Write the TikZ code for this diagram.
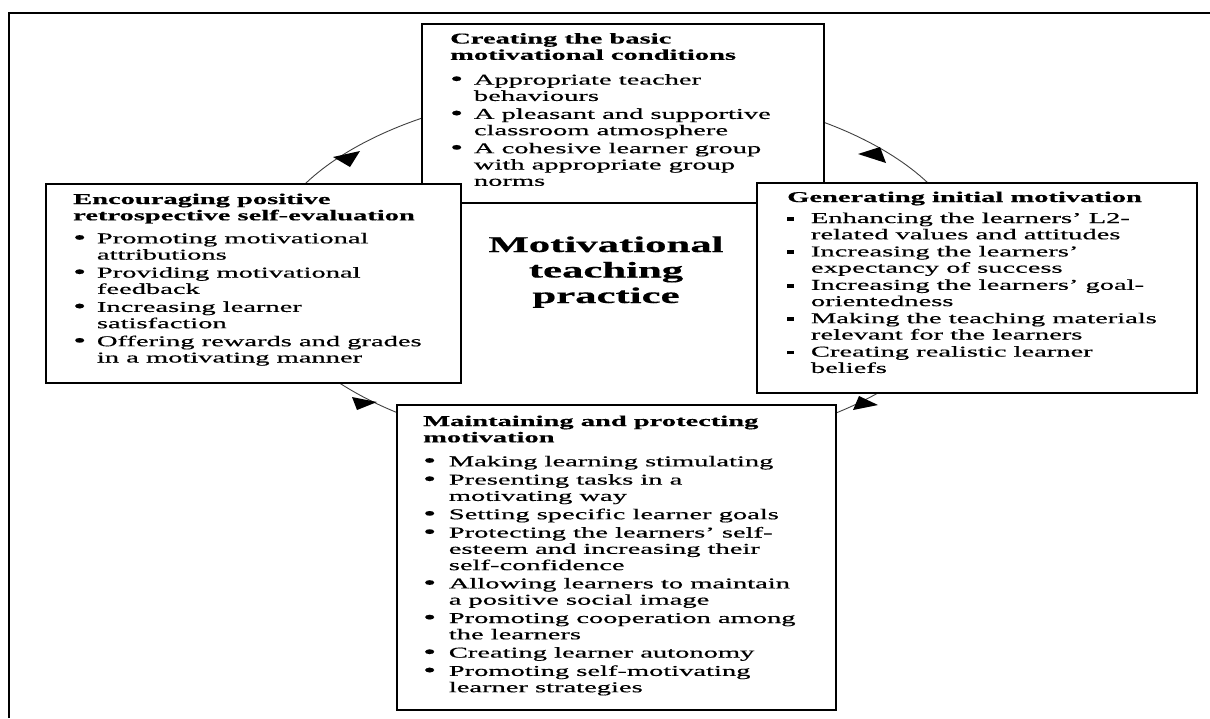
\documentclass[tikz,border=0pt]{standalone}
\usepackage{fontspec}
\setmainfont{Liberation Serif}[FakeBold=0.4]
\usepackage{graphicx}
\usetikzlibrary{backgrounds}
\newlength\bulw
\setlength\bulw{12.5pt}
\newcommand\bul{\makebox[\bulw][l]{\raisebox{-0.6pt}{\scalebox{1.3}{\textbullet}}}}
\newcommand\sqb{\makebox[\bulw][l]{\raisebox{2.3pt}{\rule{3.6pt}{3.8pt}}}}
\newcommand\ind{\hspace*{\bulw}}
\newcommand\stretchtab[2]{\scalebox{1.9}[1]{\begin{tabular}[t]{@{}#1@{}}#2\end{tabular}}}
\begin{document}
\begin{tikzpicture}[x=1pt,y=-1pt,
  boxstyle/.style={draw=black, fill=white, line width=1.5pt, anchor=north west, inner sep=0pt},
  txt/.style={anchor=base west, inner sep=0pt, font=\fontsize{15}{16.3}\selectfont},
  titletxt/.style={anchor=base, inner sep=0pt, font=\bfseries\fontsize{22.5}{25.5}\selectfont},
  framestyle/.style={line width=1.4pt, draw=black},
  arcstyle/.style={line width=0.9pt, draw=black!75},
  headfill/.style={fill=black}]
\useasboundingbox (0,0) rectangle (1210,718);
% outer frame
\coordinate (fbl) at (9,718);
\coordinate (ftl) at (9,13);
\coordinate (ftr) at (1210,13);
\draw[framestyle] (fbl) -- (ftl) -- (ftr);
% ellipse centre
\coordinate (c) at (617,270);
% boxes
\node[boxstyle, minimum width=402pt, minimum height=179pt] (topbox) at (421,23) {};
\node[boxstyle, minimum width=415pt, minimum height=199pt] (leftbox) at (45,183) {};
\node[boxstyle, minimum width=440pt, minimum height=210pt] (rightbox) at (756,182) {};
\node[boxstyle, minimum width=439pt, minimum height=305pt] (botbox) at (396,404) {};
% cycle arcs (behind boxes)
\begin{pgfonlayer}{background}
\draw[arcstyle] ([shift={(-90:354 and 182)}]c) arc[start angle=-90, end angle=-180, x radius=354, y radius=182];
\draw[arcstyle] ([shift={(0:354 and 182)}]c) arc[start angle=0, end angle=-90, x radius=354, y radius=182];
\draw[arcstyle] ([shift={(0:354 and 182)}]c) arc[start angle=0, end angle=90, x radius=354, y radius=182];
\draw[arcstyle] ([shift={(90:354 and 182)}]c) arc[start angle=90, end angle=180, x radius=354, y radius=182];
\end{pgfonlayer}
% arrowheads
\fill[headfill] (333,157) -- (360,151) -- (350,167) -- cycle;
\fill[headfill] (858,154) -- (880,147) -- (886,163) -- cycle;
\fill[headfill] (853,410) -- (859,396) -- (878,405) -- cycle;
\fill[headfill] (352,397) -- (377,402) -- (357,410) -- cycle;
% texts
\node[txt] (toptext) at (450,43.5) {\stretchtab{l}{%
\textbf{Creating the basic}\\
\textbf{motivational conditions}\\[8.5pt]
\bul Appropriate teacher\\
\ind behaviours\\[1.7pt]
\bul A pleasant and supportive\\
\ind classroom atmosphere\\[1.7pt]
\bul A cohesive learner group\\
\ind with appropriate group\\
\ind norms}};
\node[txt] (lefttext) at (73,204) {\stretchtab{l}{%
\textbf{Encouraging positive}\\
\textbf{retrospective self-evaluation}\\[6.7pt]
\bul Promoting motivational\\
\ind attributions\\[1.7pt]
\bul Providing motivational\\
\ind feedback\\[1.7pt]
\bul Increasing learner\\
\ind satisfaction\\[1.7pt]
\bul Offering rewards and grades\\
\ind in a motivating manner}};
\node[txt] (righttext) at (787,202) {\stretchtab{l}{%
\textbf{Generating initial motivation}\\[4.7pt]
\sqb Enhancing the learners’ L2-\\
\ind related values and attitudes\\[0.8pt]
\sqb Increasing the learners’\\
\ind expectancy of success\\[0.8pt]
\sqb Increasing the learners’ goal-\\
\ind orientedness\\[0.8pt]
\sqb Making the teaching materials\\
\ind relevant for the learners\\[0.8pt]
\sqb Creating realistic learner\\
\ind beliefs}};
\node[txt] (bottext) at (423,426) {\setlength\bulw{13.5pt}\stretchtab{l}{%
\textbf{Maintaining and protecting}\\
\textbf{motivation}\\[7.7pt]
\bul Making learning stimulating\\[2pt]
\bul Presenting tasks in a\\
\ind motivating way\\[2pt]
\bul Setting specific learner goals\\[2pt]
\bul Protecting the learners’ self-\\
\ind esteem and increasing their\\
\ind self-confidence\\[2pt]
\bul Allowing learners to maintain\\
\ind a positive social image\\[2pt]
\bul Promoting cooperation among\\
\ind the learners\\[2pt]
\bul Creating learner autonomy\\[2pt]
\bul Promoting self-motivating\\
\ind learner strategies}};
\node[titletxt] (title) at (606,252) {\stretchtab{c}{Motivational\\teaching\\practice}};
\end{tikzpicture}
\end{document}
